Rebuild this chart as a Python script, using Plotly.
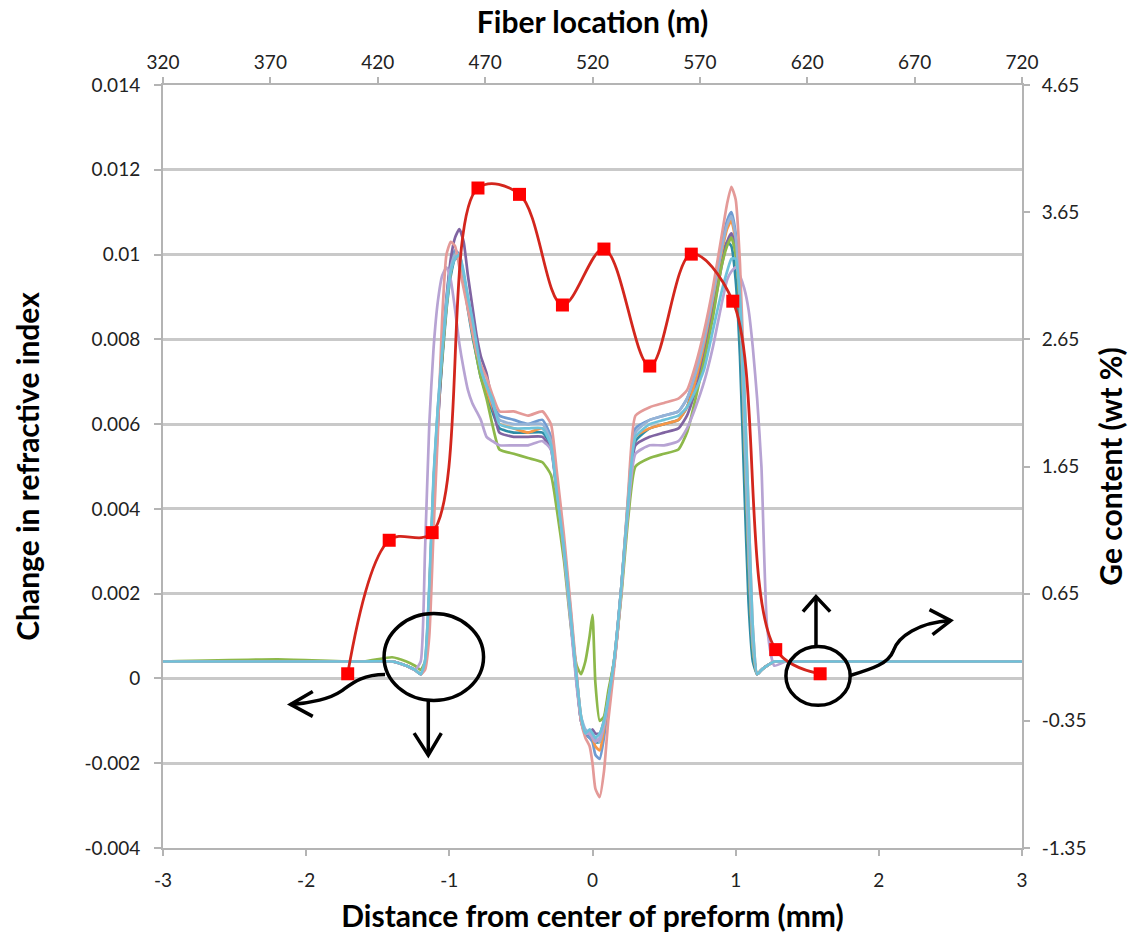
import plotly.graph_objects as go

# Radial positions (mm from preform centre) shared by all refractive-index scans
distance_mm = [
    -3.0, -2.2, -1.6, -1.4, -1.3,
    -1.24, -1.2, -1.17, -1.14, -1.11, -1.08, -1.05, -1.02, -0.99, -0.96, -0.93,
    -0.9, -0.87, -0.84, -0.81, -0.78, -0.74, -0.7, -0.65,
    -0.55, -0.45, -0.35, -0.29, -0.25, -0.2, -0.15,
    -0.11, -0.08, -0.05, -0.02, 0.0, 0.02, 0.05, 0.08, 0.11, 0.15,
    0.2, 0.25, 0.3, 0.4, 0.5, 0.6, 0.66, 0.72, 0.78,
    0.84, 0.9, 0.94, 0.97, 1.0, 1.03,
    1.06, 1.09, 1.12, 1.15, 1.18, 1.22, 1.27,
    1.35, 1.5, 2.2, 3.0,
]

# Change in refractive index for each scan
dn_teal = [
    0.0004, 0.0004, 0.0004, 0.0004, 0.0003,
    0.0002, 0.0001, 0.0003, 0.0017, 0.0043, 0.0061, 0.0075, 0.0087, 0.0095, 0.0099, 0.0099,
    0.0094, 0.0087, 0.0081, 0.0076, 0.0071, 0.0067, 0.0063, 0.0059,
    0.0058, 0.0058, 0.0058, 0.0055, 0.0044, 0.0030, 0.0013,
    -0.0001, -0.0010, -0.0013, -0.0014, -0.0013, -0.0015, -0.0015, -0.0011, -0.0005, 0.0003,
    0.0020, 0.0041, 0.0056, 0.0059, 0.0060, 0.0061, 0.0064, 0.0071, 0.0079,
    0.0089, 0.0099, 0.0103, 0.0102, 0.0094, 0.0076,
    0.0046, 0.0018, 0.0004, 0.0001, 0.0002, 0.0003, 0.0004,
    0.0004, 0.0004, 0.0004, 0.0004,
]
dn_blue = [
    0.0004, 0.0004, 0.0004, 0.0004, 0.0003,
    0.0002, 0.0001, 0.0003, 0.0018, 0.0044, 0.0062, 0.0077, 0.0090, 0.0098, 0.0101, 0.0100,
    0.0095, 0.0089, 0.0083, 0.0078, 0.0073, 0.0069, 0.0065, 0.0062,
    0.0061, 0.0060, 0.0061, 0.0057, 0.0046, 0.0032, 0.0015,
    0.0000, -0.0010, -0.0013, -0.0014, -0.0015, -0.0018, -0.0019, -0.0014, -0.0006, 0.0003,
    0.0021, 0.0043, 0.0059, 0.0061, 0.0062, 0.0063, 0.0066, 0.0072, 0.0080,
    0.0090, 0.0102, 0.0108, 0.0110, 0.0105, 0.0090,
    0.0062, 0.0032, 0.0008, 0.0001, 0.0002, 0.0003, 0.0004,
    0.0004, 0.0004, 0.0004, 0.0004,
]
dn_orange = [
    0.0004, 0.0004, 0.0004, 0.0004, 0.0003,
    0.0002, 0.0001, 0.0003, 0.0020, 0.0046, 0.0063, 0.0076, 0.0088, 0.0096, 0.0100, 0.0099,
    0.0094, 0.0088, 0.0082, 0.0077, 0.0072, 0.0068, 0.0064, 0.0060,
    0.0059, 0.0058, 0.0059, 0.0056, 0.0045, 0.0031, 0.0014,
    0.0000, -0.0009, -0.0013, -0.0013, -0.0014, -0.0016, -0.0017, -0.0012, -0.0005, 0.0004,
    0.0021, 0.0042, 0.0057, 0.0059, 0.0060, 0.0061, 0.0064, 0.0070, 0.0078,
    0.0088, 0.0100, 0.0106, 0.0108, 0.0103, 0.0089,
    0.0060, 0.0030, 0.0008, 0.0001, 0.0002, 0.0003, 0.0004,
    0.0004, 0.0004, 0.0004, 0.0004,
]
dn_purple = [
    0.0004, 0.0004, 0.0004, 0.0004, 0.0003,
    0.0002, 0.0001, 0.0003, 0.0015, 0.0040, 0.0060, 0.0076, 0.0089, 0.0099, 0.0104, 0.0106,
    0.0103, 0.0095, 0.0088, 0.0081, 0.0076, 0.0072, 0.0065, 0.0058,
    0.0057, 0.0057, 0.0057, 0.0054, 0.0044, 0.0030, 0.0013,
    -0.0001, -0.0010, -0.0013, -0.0013, -0.0012, -0.0013, -0.0013, -0.0010, -0.0004, 0.0004,
    0.0021, 0.0041, 0.0055, 0.0057, 0.0058, 0.0059, 0.0062, 0.0068, 0.0076,
    0.0086, 0.0097, 0.0103, 0.0105, 0.0101, 0.0088,
    0.0060, 0.0030, 0.0008, 0.0001, 0.0002, 0.0003, 0.0004,
    0.0004, 0.0004, 0.0004, 0.0004,
]
dn_green = [
    0.0004, 0.00045, 0.0004, 0.0005, 0.0004,
    0.0003, 0.0002, 0.0004, 0.0020, 0.0046, 0.0063, 0.0076, 0.0088, 0.0096, 0.0100, 0.0099,
    0.0094, 0.0088, 0.0082, 0.0076, 0.0071, 0.0066, 0.0060, 0.0054,
    0.0053, 0.0052, 0.0051, 0.0048, 0.0040, 0.0028, 0.0012,
    0.0003, 0.0001, 0.0004, 0.0010, 0.0015, -0.0001, -0.0010, -0.0009, -0.0003, 0.0004,
    0.0019, 0.0038, 0.0050, 0.0052, 0.0053, 0.0054, 0.0058, 0.0066, 0.0075,
    0.0085, 0.0097, 0.0102, 0.0104, 0.0100, 0.0087,
    0.0058, 0.0028, 0.0007, 0.0001, 0.0002, 0.0003, 0.0004,
    0.0004, 0.0004, 0.0004, 0.0004,
]
dn_lightblue = [
    0.0004, 0.0004, 0.0004, 0.0004, 0.0003,
    0.0002, 0.0001, 0.0004, 0.0021, 0.0047, 0.0064, 0.0078, 0.0089, 0.0097, 0.0100, 0.0100,
    0.0095, 0.0090, 0.0084, 0.0078, 0.0073, 0.0069, 0.0065, 0.0061,
    0.0060, 0.0060, 0.0060, 0.0056, 0.0045, 0.0031, 0.0014,
    0.0000, -0.0009, -0.0012, -0.0013, -0.0013, -0.0014, -0.0015, -0.0011, -0.0005, 0.0004,
    0.0021, 0.0042, 0.0058, 0.0061, 0.0062, 0.0063, 0.0066, 0.0072, 0.0080,
    0.0090, 0.0101, 0.0107, 0.0109, 0.0104, 0.0089,
    0.0060, 0.0030, 0.0008, 0.0001, 0.0002, 0.0003, 0.0004,
    0.0004, 0.0004, 0.0004, 0.0004,
]
dn_lavender = [
    0.0004, 0.0004, 0.0004, 0.0004, 0.0003,
    0.0002, 0.0004, 0.0030, 0.0060, 0.0078, 0.0089, 0.0095, 0.0097, 0.0094, 0.0087, 0.0079,
    0.0073, 0.0068, 0.0065, 0.0063, 0.0061, 0.0057, 0.0056, 0.0055,
    0.0055, 0.0055, 0.0056, 0.0054, 0.0045, 0.0030, 0.0012,
    -0.0002, -0.0010, -0.0013, -0.0013, -0.0014, -0.0015, -0.0014, -0.0011, -0.0005, 0.0003,
    0.0020, 0.0040, 0.0053, 0.0055, 0.0055, 0.0056, 0.0059, 0.0064, 0.0070,
    0.0078, 0.0088, 0.0094, 0.0096, 0.0097, 0.0095,
    0.0092, 0.0087, 0.0078, 0.0066, 0.0050, 0.0012, 0.0003,
    0.0004, 0.0004, 0.0004, 0.0004,
]
dn_pink = [
    0.0004, 0.0004, 0.0004, 0.0004, 0.0003,
    0.0002, 0.0001, 0.0002, 0.0010, 0.0035, 0.0058, 0.0085, 0.0100, 0.0103, 0.0102, 0.0097,
    0.0092, 0.0087, 0.0082, 0.0077, 0.0074, 0.0071, 0.0067, 0.0063,
    0.0063, 0.0062, 0.0063, 0.0060, 0.0049, 0.0034, 0.0016,
    0.0001, -0.0010, -0.0014, -0.0016, -0.0020, -0.0026, -0.0028, -0.0022, -0.0010, 0.0002,
    0.0020, 0.0044, 0.0062, 0.0064, 0.0065, 0.0066, 0.0068, 0.0074, 0.0082,
    0.0092, 0.0104, 0.0112, 0.0116, 0.0113, 0.0098,
    0.0070, 0.0040, 0.0012, 0.0001, 0.0002, 0.0003, 0.0004,
    0.0004, 0.0004, 0.0004, 0.0004,
]
dn_cyan = [
    0.0004, 0.0004, 0.0004, 0.0004, 0.0003,
    0.0002, 0.0001, 0.0004, 0.0022, 0.0048, 0.0064, 0.0077, 0.0088, 0.0096, 0.0099, 0.0100,
    0.0096, 0.0090, 0.0085, 0.0079, 0.0073, 0.0069, 0.0066, 0.0060,
    0.0059, 0.0059, 0.0059, 0.0055, 0.0044, 0.0031, 0.0014,
    0.0000, -0.0009, -0.0013, -0.0012, -0.0013, -0.0014, -0.0013, -0.0010, -0.0005, 0.0004,
    0.0021, 0.0042, 0.0057, 0.0060, 0.0061, 0.0062, 0.0064, 0.0068, 0.0073,
    0.0082, 0.0091, 0.0096, 0.0099, 0.0099, 0.0090,
    0.0068, 0.0040, 0.0012, 0.0001, 0.0002, 0.0003, 0.0004,
    0.0004, 0.0004, 0.0004, 0.0004,
]

# Germanium content measured along the preform (right axis)
ge_distance_mm = [-1.71, -1.42, -1.12, -0.80, -0.51, -0.21, 0.08, 0.40, 0.69, 0.98, 1.28, 1.59]
ge_wt_pct = [0.02, 1.07, 1.13, 3.84, 3.79, 2.92, 3.36, 2.44, 3.32, 2.95, 0.21, 0.02]

# Axis ticks and labels
x_ticks = [-3, -2, -1, 0, 1, 2, 3]
x_labels = ["-3", "-2", "-1", "0", "1", "2", "3"]
fiber_ticks = [320, 370, 420, 470, 520, 570, 620, 670, 720]
dn_ticks = [-0.004, -0.002, 0, 0.002, 0.004, 0.006, 0.008, 0.01, 0.012, 0.014]
dn_labels = ["-0.004", "-0.002", "0", "0.002", "0.004", "0.006", "0.008", "0.01", "0.012", "0.014"]
ge_ticks = [-1.35, -0.35, 0.65, 1.65, 2.65, 3.65, 4.65]
ge_labels = ["-1.35", "-0.35", "0.65", "1.65", "2.65", "3.65", "4.65"]

scans = [
    (dn_teal, "#2E8CA6"),
    (dn_blue, "#6F9BD2"),
    (dn_orange, "#F79646"),
    (dn_purple, "#8064A2"),
    (dn_green, "#8DB84A"),
    (dn_lightblue, "#95B3D7"),
    (dn_lavender, "#B7A3D3"),
    (dn_pink, "#E49A98"),
    (dn_cyan, "#6EC2DA"),
]

FONT = "Lato, 'Open Sans', sans-serif"
GRID = "#C9C9C9"
AXIS = "#B4B4B4"

fig = go.Figure()

for values, color in scans:
    fig.add_trace(go.Scatter(
        x=distance_mm, y=values, mode="lines",
        line=dict(color=color, width=2.7, shape="spline", smoothing=0.5),
        showlegend=False, hoverinfo="skip",
    ))

# Top axis carrier (fiber location scale)
fig.add_trace(go.Scatter(
    x=[fiber_ticks[0], fiber_ticks[-1]], y=[None, None], xaxis="x2", yaxis="y",
    mode="lines", showlegend=False, hoverinfo="skip",
))

fig.add_trace(go.Scatter(
    x=ge_distance_mm, y=ge_wt_pct, yaxis="y2", mode="lines+markers",
    line=dict(color="#D3261D", width=2.8, shape="spline", smoothing=1.0),
    marker=dict(symbol="square", size=13, color="#FF0000"),
    showlegend=False, hoverinfo="skip",
))

# Hand-drawn highlight circles and arrows
ink = dict(color="black", width=3.5)
shapes = [
    dict(type="circle", xref="x", yref="y", x0=-1.456, x1=-0.761, y0=-0.00052, y1=0.00153, line=ink),
    dict(type="path", xref="x", yref="y", line=ink,
         path="M -1.147,-0.00052 L -1.147,-0.00181"),
    dict(type="path", xref="x", yref="y", line=ink,
         path="M -1.246,-0.00129 L -1.147,-0.00181 L -1.056,-0.00129"),
    dict(type="path", xref="x", yref="y", line=ink,
         path="M -1.449,0.000094 C -1.618,0.000094 -1.688,-0.000141 -1.758,-0.000306 "
              "C -1.828,-0.000471 -1.968,-0.000588 -2.109,-0.000612"),
    dict(type="path", xref="x", yref="y", line=ink,
         path="M -1.954,-0.000306 L -2.109,-0.000612 L -1.954,-0.000894"),
    dict(type="circle", xref="x", yref="y", x0=1.351, x1=1.800, y0=-0.000635, y1=0.000753, line=ink),
    dict(type="path", xref="x", yref="y", line=ink,
         path="M 1.561,0.000753 L 1.561,0.00193"),
    dict(type="path", xref="x", yref="y", line=ink,
         path="M 1.470,0.001576 L 1.561,0.00193 L 1.660,0.001576"),
    dict(type="path", xref="x", yref="y", line=ink,
         path="M 1.800,0.0000706 C 1.961,0.000235 2.067,0.000353 2.102,0.000659 "
              "C 2.137,0.000988 2.277,0.001318 2.502,0.001365"),
    dict(type="path", xref="x", yref="y", line=ink,
         path="M 2.354,0.001624 L 2.502,0.001365 L 2.375,0.001035"),
]

tick_font = dict(family=FONT, size=19, color="#222222")
title_font = dict(family=FONT, size=30, color="black")

fig.update_layout(
    width=1135, height=945,
    margin=dict(l=163, r=113, t=85, b=97),
    paper_bgcolor="white", plot_bgcolor="white",
    font=dict(family=FONT),
    shapes=shapes,
    xaxis=dict(
        range=[-3, 3], tickvals=x_ticks, ticktext=x_labels,
        showgrid=False, zeroline=False, showline=True, linecolor=AXIS, linewidth=2,
        ticks="outside", ticklen=6, tickcolor=AXIS, tickwidth=2, tickfont=tick_font,
        ticklabelstandoff=8,
        title=dict(text="<b>Distance from center of preform (mm)</b>", font=title_font, standoff=16),
    ),
    xaxis2=dict(
        range=[320, 720], tickvals=fiber_ticks, overlaying="x", side="top", anchor="y",
        showgrid=False, zeroline=False, showline=True, linecolor=AXIS, linewidth=2,
        ticks="outside", ticklen=6, tickcolor=AXIS, tickwidth=2, tickfont=tick_font,
        title=dict(text="<b>Fiber location (m)</b>", font=title_font, standoff=8),
    ),
    yaxis=dict(
        range=[-0.004, 0.014], tickvals=dn_ticks, ticktext=dn_labels,
        showgrid=True, gridcolor=GRID, gridwidth=2.5, zeroline=False,
        showline=True, linecolor=AXIS, linewidth=2,
        ticks="outside", ticklen=7, tickcolor=AXIS, tickwidth=2, tickfont=tick_font,
        ticklabelstandoff=10,
        title=dict(text="<b>Change in refractive index</b>", font=title_font, standoff=36),
    ),
    yaxis2=dict(
        range=[-1.35, 4.65], tickvals=ge_ticks, ticktext=ge_labels,
        overlaying="y", side="right", anchor="x",
        showgrid=False, zeroline=False, showline=True, linecolor=AXIS, linewidth=2,
        ticks="outside", ticklen=6, tickcolor=AXIS, tickwidth=2, tickfont=tick_font,
        ticklabelstandoff=8,
        title=dict(text="<b>Ge content (wt %)</b>", font=title_font, standoff=16),
    ),
)

fig.write_html("out.html")
